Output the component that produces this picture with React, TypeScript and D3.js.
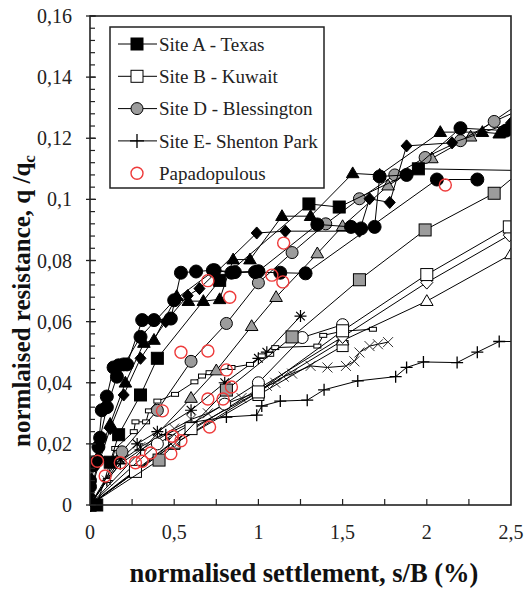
import React from 'react';
import * as d3 from 'd3';

// ---------- data ----------
const xTicks = [0, 0.5, 1, 1.5, 2, 2.5];
const xTickLabels = ['0', '0,5', '1', '1,5', '2', '2,5'];
const yTicks = [0, 0.02, 0.04, 0.06, 0.08, 0.1, 0.12, 0.14, 0.16];
const yTickLabels = ['0', '0,02', '0,04', '0,06', '0,08', '0,1', '0,12', '0,14', '0,16'];

const legendLabels = ['Site A - Texas', 'Site B - Kuwait', 'Site D - Blessington', 'Site E- Shenton Park', 'Papadopulous'];

// Site A – Texas (black markers)
const siteA_squares: [number, number][] = [[0.04, 0], [0.12, 0.014], [0.17, 0.023], [0.3, 0.036], [0.4, 0.048], [0.77, 0.0735], [1.3, 0.0985], [1.48, 0.0975], [1.95, 0.11], [2.5, 0.1095]];
const siteA_circles1: [number, number][] = [[0, 0.008], [0.02, 0.013], [0.05, 0.019], [0.07, 0.031], [0.1, 0.0355], [0.14, 0.045], [0.17, 0.0457], [0.2, 0.046], [0.22, 0.046], [0.31, 0.0605], [0.38, 0.0605], [0.48, 0.061], [0.54, 0.076], [0.63, 0.0764], [0.73, 0.0768], [0.84, 0.076], [0.98, 0.0762], [1.13, 0.076], [1.28, 0.0758], [2.06, 0.1065], [2.3, 0.1065]];
const siteA_circles2: [number, number][] = [[0, 0.006], [0.03, 0.014], [0.06, 0.022], [0.1, 0.032], [0.16, 0.042], [0.3, 0.055], [0.5, 0.067], [0.74, 0.0768], [0.86, 0.0762], [1.0, 0.0765], [1.35, 0.0918], [1.55, 0.091], [1.61, 0.0905], [1.69, 0.091], [1.72, 0.1075], [1.88, 0.108], [2.2, 0.1233], [2.47, 0.1225]];
const siteA_triangles: [number, number][] = [[0, 0.001], [0.05, 0.016], [0.12, 0.0265], [0.21, 0.04], [0.32, 0.053], [0.38, 0.054], [0.515, 0.0683], [0.584, 0.0667], [0.673, 0.0667], [0.77, 0.0673], [0.85, 0.0803], [0.95, 0.0803], [1.14, 0.0945], [1.31, 0.0945], [1.56, 0.1085], [1.72, 0.108], [2.08, 0.122], [2.33, 0.122], [2.43, 0.1215]];
const siteA_diamonds: [number, number][] = [[0, 0.003], [0.06, 0.015], [0.12, 0.025], [0.2, 0.036], [0.3, 0.048], [0.45, 0.06], [0.58, 0.0685], [0.65, 0.0708], [0.99, 0.089], [1.16, 0.0896], [1.6, 0.0896], [1.66, 0.1002], [1.78, 0.099], [1.88, 0.1175], [2.15, 0.1185], [2.5, 0.125]];

// Site B – Kuwait (open markers)
const siteB_squares: [number, number][] = [[0, 0], [0.27, 0.011], [0.6, 0.025], [1.0, 0.037], [1.5, 0.057], [2.0, 0.0754], [2.49, 0.091]];
const siteB_circles: [number, number][] = [[0, 0], [0.4, 0.02], [0.8, 0.033], [1.0, 0.04], [1.26, 0.0548], [1.5, 0.059]];
const siteB_diamonds: [number, number][] = [[0, 0], [0.5, 0.021], [1.0, 0.038], [1.5, 0.055], [2.0, 0.0728], [2.49, 0.0883]];
const siteB_triangles: [number, number][] = [[0, 0], [0.5, 0.02], [1.0, 0.037], [1.5, 0.0538], [2.0, 0.0667], [2.5, 0.082]];
const siteB_squares2: [number, number][] = [[0, 0], [0.5, 0.02], [1.0, 0.036], [1.5, 0.052]];
const siteB_bars: [number, number][] = [[0, 0], [0.1, 0.008], [0.15, 0.0185], [0.26, 0.024], [0.27, 0.0272], [0.333, 0.0272], [0.35, 0.0308], [0.4, 0.034], [0.505, 0.0362], [0.62, 0.0403], [0.665, 0.0422], [0.71, 0.0433], [0.84, 0.045], [0.95, 0.046], [1.02, 0.0488], [1.07, 0.0493], [1.1, 0.0515], [1.35, 0.052], [1.385, 0.0555], [1.5, 0.0569], [1.68, 0.0575]];

// Site D – Blessington (grey markers)
const siteD_circles: [number, number][] = [[0, 0], [0.19, 0.0174], [0.4, 0.031], [0.6, 0.047], [0.81, 0.0594], [1.0, 0.0727], [1.2, 0.0826], [1.4, 0.092], [1.6, 0.1002], [1.81, 0.108], [1.99, 0.1137], [2.2, 0.1192], [2.4, 0.1255], [2.5, 0.128]];
const siteD_squares: [number, number][] = [[0, 0], [0.41, 0.0147], [0.81, 0.0376], [1.2, 0.055], [1.6, 0.0737], [1.99, 0.09], [2.4, 0.102], [2.5, 0.1066]];
const siteD_triangles: [number, number][] = [[0, 0], [0.6, 0.035], [0.75, 0.044], [0.96, 0.0585], [1.105, 0.068], [1.35, 0.0823], [1.5, 0.0912], [1.77, 0.1045], [2.03, 0.1134], [2.26, 0.1205], [2.5, 0.1295]];

// Site E – Shenton Park
const siteE_plus: [number, number][] = [[0, 0], [0.1, 0.008], [0.18, 0.0135], [0.3, 0.018], [0.45, 0.023], [0.6, 0.027], [0.81, 0.0288], [0.99, 0.0294], [1.02, 0.0324], [1.13, 0.034], [1.29, 0.0343], [1.39, 0.0377], [1.59, 0.0406], [1.815, 0.042], [1.88, 0.045], [1.98, 0.0468], [2.18, 0.0466], [2.3, 0.05], [2.43, 0.0535], [2.5, 0.0535]];
const siteE_cross: [number, number][] = [[0, 0], [0.1, 0.008], [0.2, 0.015], [0.3, 0.019], [0.4, 0.022], [0.5, 0.025], [0.6, 0.028], [0.7, 0.03], [0.8, 0.033], [0.9, 0.035], [1.0, 0.037], [1.05, 0.039], [1.1, 0.04], [1.15, 0.042], [1.2, 0.043], [1.31, 0.0455], [1.41, 0.045], [1.52, 0.0455], [1.57, 0.047], [1.6, 0.0499], [1.66, 0.052], [1.71, 0.0526], [1.77, 0.0533]];
const siteE_star: [number, number][] = [[0, 0], [0.18, 0.015], [0.28, 0.02], [0.4, 0.024], [0.6, 0.031], [0.8, 0.04], [1.0, 0.048], [1.05, 0.05], [1.25, 0.0618]];

// Papadopulous (red open circles, no line)
const papadopulous: [number, number][] = [[0.044, 0.0143], [0.09, 0.0095], [0.18, 0.0138], [0.27, 0.0138], [0.31, 0.0143], [0.36, 0.017], [0.43, 0.0308], [0.48, 0.0168], [0.49, 0.0225], [0.54, 0.021], [0.54, 0.05], [0.7, 0.0504], [0.7, 0.0734], [0.7, 0.0347], [0.71, 0.0255], [0.79, 0.0347], [0.81, 0.0442], [0.83, 0.068], [0.84, 0.0386], [1.08, 0.0752], [1.145, 0.073], [1.15, 0.0857], [2.11, 0.1047]];

// ---------- layout ----------
const W = 525, H = 594;
const PL = 90, PR = 511, PT = 16, PB = 505;
const x = d3.scaleLinear().domain([0, 2.5]).range([PL, PR]);
const y = d3.scaleLinear().domain([0, 0.16]).range([PB, PT]);
const FONT = '"Liberation Serif", "Times New Roman", serif';
const GREY = '#9c9c9c';
const RED = '#ee3b3b';

type Shape = 'square' | 'circle' | 'triangle' | 'diamond' | 'plus' | 'cross' | 'star' | 'bar';
interface Series { data: [number, number][]; shape: Shape; fill: string; size: number; bareLast?: boolean; }

const SERIES: Series[] = [
  { data: siteE_cross, shape: 'cross', fill: 'none', size: 10 },
  { data: siteE_plus, shape: 'plus', fill: 'none', size: 12, bareLast: true },
  { data: siteE_star, shape: 'star', fill: 'none', size: 12 },
  { data: siteB_bars, shape: 'bar', fill: '#fff', size: 7 },
  { data: siteB_squares2, shape: 'square', fill: '#fff', size: 11 },
  { data: siteB_triangles, shape: 'triangle', fill: '#fff', size: 12 },
  { data: siteB_diamonds, shape: 'diamond', fill: '#fff', size: 12 },
  { data: siteB_circles, shape: 'circle', fill: '#fff', size: 12 },
  { data: siteB_squares, shape: 'square', fill: '#fff', size: 12 },
  { data: siteD_squares, shape: 'square', fill: GREY, size: 12, bareLast: true },
  { data: siteD_triangles, shape: 'triangle', fill: GREY, size: 12, bareLast: true },
  { data: siteD_circles, shape: 'circle', fill: GREY, size: 12, bareLast: true },
  { data: siteA_diamonds, shape: 'diamond', fill: '#000', size: 11 },
  { data: siteA_triangles, shape: 'triangle', fill: '#000', size: 12 },
  { data: siteA_squares, shape: 'square', fill: '#000', size: 12, bareLast: true },
  { data: siteA_circles2, shape: 'circle', fill: '#000', size: 13 },
  { data: siteA_circles1, shape: 'circle', fill: '#000', size: 13 },
];

function Marker({ shape, cx, cy, fill, s, stroke = '#000' }: { shape: Shape; cx: number; cy: number; fill: string; s: number; stroke?: string }) {
  const h = s / 2;
  switch (shape) {
    case 'square':
      return <rect x={cx - h} y={cy - h} width={s} height={s} fill={fill} stroke={stroke} strokeWidth={1} />;
    case 'circle':
      return <circle cx={cx} cy={cy} r={h} fill={fill} stroke={stroke} strokeWidth={1} />;
    case 'triangle': {
      const th = s * 0.9;
      return <polygon points={`${cx},${cy - th * 0.6} ${cx + h * 1.05},${cy + th * 0.4} ${cx - h * 1.05},${cy + th * 0.4}`} fill={fill} stroke={stroke} strokeWidth={1} />;
    }
    case 'diamond':
      return <polygon points={`${cx},${cy - h * 1.1} ${cx + h},${cy} ${cx},${cy + h * 1.1} ${cx - h},${cy}`} fill={fill} stroke={stroke} strokeWidth={1} />;
    case 'plus':
      return <path d={`M${cx - h},${cy}H${cx + h}M${cx},${cy - h}V${cy + h}`} stroke={stroke} strokeWidth={1.3} fill="none" />;
    case 'cross':
      return <path d={`M${cx - h},${cy - h}L${cx + h},${cy + h}M${cx - h},${cy + h}L${cx + h},${cy - h}`} stroke="#333" strokeWidth={1} fill="none" />;
    case 'star': {
      const d = h * 0.72;
      return <path d={`M${cx - h},${cy}H${cx + h}M${cx},${cy - h}V${cy + h}M${cx - d},${cy - d}L${cx + d},${cy + d}M${cx - d},${cy + d}L${cx + d},${cy - d}`} stroke={stroke} strokeWidth={1.2} fill="none" />;
    }
    case 'bar':
      return <rect x={cx - h} y={cy - s * 0.28} width={s} height={s * 0.56} fill={fill} stroke={stroke} strokeWidth={1} />;
  }
  return null;
}

export default function App() {
  const line = d3.line<[number, number]>().x(d => x(d[0])).y(d => y(d[1]));
  const yMinor = d3.range(0, 0.1601, 0.004);
  const xMinor = d3.range(0.25, 2.5, 0.25);

  const legendRows = [
    { shape: 'square' as Shape, fill: '#000' },
    { shape: 'square' as Shape, fill: '#fff' },
    { shape: 'circle' as Shape, fill: GREY },
    { shape: 'plus' as Shape, fill: 'none' },
    { shape: 'circle' as Shape, fill: 'none', red: true },
  ];
  const LX = 110, LY = 27, LW = 214, LH = 161;

  return (
    <svg width={W} height={H} style={{ position: 'absolute', left: 0, top: 0, background: '#fff' }} fontFamily={FONT}>
      <rect x={0} y={0} width={W} height={H} fill="#fff" />
      <defs>
        <clipPath id="plotclip"><rect x={PL} y={PT - 10} width={PR - PL} height={PB - PT + 20} /></clipPath>
      </defs>

      {/* series */}
      <g clipPath="url(#plotclip)">
        {SERIES.map((s, i) => (
          <g key={i}>
            <path d={line(s.data) || ''} fill="none" stroke="#000" strokeWidth={1} />
            {s.data.map((p, j) => (s.bareLast && j === s.data.length - 1) ? null : (
              <Marker key={j} shape={s.shape} cx={x(p[0])} cy={y(p[1])} fill={s.fill} s={s.size} />
            ))}
          </g>
        ))}
        {papadopulous.map((p, j) => (
          <circle key={'p' + j} cx={x(p[0])} cy={y(p[1])} r={6} fill="none" stroke={RED} strokeWidth={1.4} />
        ))}
      </g>

      {/* frame */}
      <rect x={PL} y={PT} width={PR - PL} height={PB - PT} fill="none" stroke="#222" strokeWidth={1.6} />

      {/* y ticks */}
      {yMinor.map((v, i) => (
        <line key={'ym' + i} x1={PL} x2={PL + 5} y1={y(v)} y2={y(v)} stroke="#222" strokeWidth={1.2} />
      ))}
      {yTicks.map((v, i) => (
        <g key={'yt' + i}>
          <line x1={PL - 4} x2={PL + 6} y1={y(v)} y2={y(v)} stroke="#222" strokeWidth={1.3} />
          <text x={72} y={y(v)} dy="0.35em" textAnchor="end" fontSize={20} fill="#222">{yTickLabels[i]}</text>
        </g>
      ))}
      {/* x ticks */}
      {xMinor.map((v, i) => (
        <line key={'xm' + i} x1={x(v)} x2={x(v)} y1={PB} y2={PB - 6} stroke="#222" strokeWidth={1.2} />
      ))}
      {xTicks.map((v, i) => (
        <text key={'xt' + i} x={x(v)} y={539} textAnchor="middle" fontSize={20} fill="#222">{xTickLabels[i]}</text>
      ))}

      {/* axis titles */}
      <text x={304} y={582} textAnchor="middle" fontSize={26.5} fontWeight="bold" fill="#111">normalised settlement, s/B (%)</text>
      <text transform="translate(30,301) rotate(-90)" textAnchor="middle" fontSize={25} fontWeight="bold" fill="#111">
        normlaised resistance, q /q<tspan dy={5} fontSize={17}>c</tspan>
      </text>

      {/* legend */}
      <rect x={LX} y={LY} width={LW} height={LH} fill="#fff" stroke="#222" strokeWidth={1.5} />
      {legendRows.map((r, i) => {
        const cy = 44 + i * 32.3;
        return (
          <g key={'lg' + i}>
            {!r.red && <line x1={118} x2={157} y1={cy} y2={cy} stroke="#000" strokeWidth={1} />}
            {r.red
              ? <circle cx={137} cy={cy} r={6} fill="none" stroke={RED} strokeWidth={1.4} />
              : <Marker shape={r.shape} cx={137} cy={cy} fill={r.fill} s={r.shape === 'plus' ? 14 : 12} />}
            <text x={159} y={cy} dy="0.35em" fontSize={19} fill="#222">{legendLabels[i]}</text>
          </g>
        );
      })}
    </svg>
  );
}
